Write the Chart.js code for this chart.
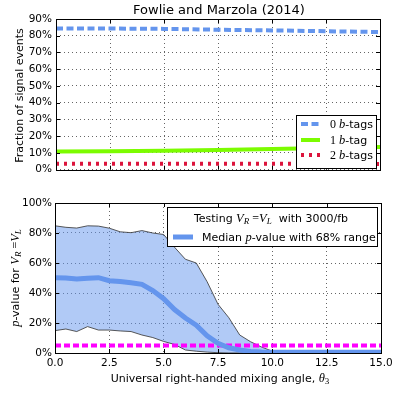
<!DOCTYPE html>
<html>
<head>
<meta charset="utf-8">
<script src="https://cdn.jsdelivr.net/npm/chart.js@4.4.1/dist/chart.umd.min.js"></script>
<style>
    html, body { margin: 0; padding: 0; background: #fff; }
    #wrap { position: relative; width: 399px; height: 393px; }
    #topChart { position: absolute; left: 0; top: 0; }
    #bottomChart { position: absolute; left: 0; top: 180px; }
</style>
</head>
<body>
<div id="wrap">
    <canvas id="topChart" width="399" height="180"></canvas>
    <canvas id="bottomChart" width="399" height="213"></canvas>
</div>
<script>
// Datos del panel superior (fracción de eventos de señal, %)
const thetaTop = [0, 2.5, 5, 7.5, 10, 12.5, 15];
const frac0b = [84.4, 84.3, 84.1, 83.6, 83.2, 82.7, 82.2];
const frac1b = [10.9, 11.0, 11.3, 11.8, 12.3, 12.9, 13.6];
const frac2b = [3.6, 3.6, 3.6, 3.5, 3.5, 3.5, 3.4];
const topTicks = [0, 10, 20, 30, 40, 50, 60, 70, 80, 90];

// Datos del panel inferior (p-value, %)
const thetaBot = [0, 0.5, 1, 1.5, 2, 2.5, 3, 3.5, 4, 4.5, 5, 5.5, 6, 6.5, 7, 7.5,
                  8, 8.5, 9, 9.5, 10, 10.5, 11, 11.5, 12, 12.5, 13, 13.5, 14, 14.5, 15];
const pUpper = [84.8, 83.8, 83.3, 84.8, 84.6, 83.2, 80.8, 80.2, 81.6, 80.0, 79.0, 70.5, 62.5, 60.0, 47.5, 32.5,
                23.5, 12.0, 7.5, 4.0, 1.2, 1.0, 1.0, 1.0, 1.0, 1.0, 1.0, 1.0, 1.0, 1.0, 1.0];
const pLower = [14.9, 16.0, 14.3, 17.6, 15.3, 15.3, 14.7, 14.3, 12.0, 10.3, 7.7, 5.7, 2.0, 1.2, 0.6, 0.2,
                0, 0, 0, 0, 0, 0, 0, 0, 0, 0, 0, 0, 0, 0, 0];
const pMedian = [50.2, 50.0, 49.3, 49.8, 50.2, 48.2, 47.6, 46.8, 45.8, 41.6, 36.2, 29.0, 23.3, 18.5, 11.5, 6.5,
                 3.5, 2.0, 1.0, 0.6, 0.5, 0.5, 0.5, 0.5, 0.5, 0.5, 0.5, 0.5, 0.5, 0.5, 0.5];
const threshold = 5;
const botTicks = [0, 20, 40, 60, 80, 100];
const xTicks = [0, 2.5, 5, 7.5, 10, 12.5, 15];

const COLORS = {
    blue: '#6495ED',
    green: '#7CFC00',
    red: '#DC143C',
    magenta: '#FF00FF',
    band: 'rgba(100, 149, 237, 0.5)',
    edge: 'rgba(60, 60, 60, 0.85)',
    grid: 'rgba(0, 0, 0, 0.6)'
};

const SANS = "11px 'DejaVu Sans'";
const M_R = "12px 'Liberation Serif'";
const M_I = "italic 12.5px 'Liberation Serif'";
const M_SUB = "italic 9px 'Liberation Serif'";

Chart.defaults.font.family = "'DejaVu Sans', sans-serif";
Chart.defaults.font.size = 10.5;
Chart.defaults.color = '#000';
Chart.defaults.animation = false;

function pts(xs, ys) {
    return xs.map((x, i) => ({ x: x, y: ys[i] }));
}

// Texto con varias fuentes (mathtext simplificado)
function drawRich(ctx, parts, x, y, align) {
    let w = 0;
    parts.forEach(p => { ctx.font = p[1]; w += ctx.measureText(p[0]).width; });
    let cx = align === 'center' ? x - w / 2 : x;
    ctx.textAlign = 'left';
    ctx.textBaseline = 'alphabetic';
    ctx.fillStyle = '#000';
    parts.forEach(p => {
        ctx.font = p[1];
        ctx.fillText(p[0], cx, y + (p[2] || 0));
        cx += ctx.measureText(p[0]).width;
    });
}

function drawRotated(ctx, parts, cx, cy) {
    ctx.save();
    ctx.translate(cx, cy);
    ctx.rotate(-Math.PI / 2);
    drawRich(ctx, parts, 0, 4, 'center');
    ctx.restore();
}

// Marco completo y marcas de ticks hacia dentro
function drawFrame(chart) {
    const ctx = chart.ctx;
    const a = chart.chartArea;
    const sx = chart.scales.x, sy = chart.scales.y;
    ctx.save();
    ctx.strokeStyle = '#000';
    ctx.lineWidth = 1;
    ctx.setLineDash([]);
    ctx.beginPath();
    sx.ticks.forEach(t => {
        const px = Math.round(sx.getPixelForValue(t.value)) + 0.5;
        ctx.moveTo(px, a.bottom); ctx.lineTo(px, a.bottom - 4);
        ctx.moveTo(px, a.top); ctx.lineTo(px, a.top + 4);
    });
    sy.ticks.forEach(t => {
        const py = Math.round(sy.getPixelForValue(t.value)) + 0.5;
        ctx.moveTo(a.left, py); ctx.lineTo(a.left + 4, py);
        ctx.moveTo(a.right, py); ctx.lineTo(a.right - 4, py);
    });
    ctx.stroke();
    ctx.strokeRect(Math.round(a.left) + 0.5, Math.round(a.top) + 0.5,
                   Math.round(a.right - a.left), Math.round(a.bottom - a.top));
    ctx.restore();
}

function legendBox(ctx, x0, y0, x1, y1) {
    ctx.save();
    ctx.fillStyle = '#fff';
    ctx.fillRect(x0, y0, x1 - x0, y1 - y0);
    ctx.strokeStyle = '#000';
    ctx.lineWidth = 1;
    ctx.strokeRect(x0 + 0.5, y0 + 0.5, x1 - x0 - 1, y1 - y0 - 1);
    ctx.restore();
}

function handle(ctx, x0, x1, y, color, width, dash) {
    ctx.save();
    ctx.strokeStyle = color;
    ctx.lineWidth = width;
    ctx.setLineDash(dash || []);
    ctx.beginPath();
    ctx.moveTo(x0, y); ctx.lineTo(x1, y);
    ctx.stroke();
    ctx.restore();
}

function scaleOpts(ticks, fmt) {
    return {
        type: 'linear',
        afterBuildTicks: s => { s.ticks = ticks.map(v => ({ value: v })); },
        grid: { color: COLORS.grid, lineWidth: 1, drawTicks: false },
        border: { display: false, dash: [1, 3] },
        ticks: { callback: fmt, autoSkip: false, maxRotation: 0, color: '#000' }
    };
}

// ---------- Panel superior ----------
const topX = scaleOpts(xTicks, v => v.toFixed(1));
topX.min = 0; topX.max = 15;
topX.ticks.display = false;
topX.afterFit = s => { s.height = 8; };
topX.z = 1;
const topY = scaleOpts(topTicks, v => v + '%');
topY.min = 0; topY.max = 90;
topY.ticks.padding = 4;
topY.afterFit = s => { s.width = 56; };
topY.z = 1;

new Chart(document.getElementById('topChart'), {
    type: 'line',
    data: {
        datasets: [
            { data: pts(thetaTop, frac0b), borderColor: COLORS.blue, borderWidth: 4, borderDash: [7, 3.5] },
            { data: pts(thetaTop, frac1b), borderColor: COLORS.green, borderWidth: 4 },
            { data: pts(thetaTop, frac2b), borderColor: COLORS.red, borderWidth: 4, borderDash: [3, 5] }
        ]
    },
    options: {
        responsive: false,
        devicePixelRatio: 1,
        layout: { padding: { left: 0, right: 19, top: 19, bottom: 0 } },
        elements: { point: { radius: 0 }, line: { tension: 0, borderCapStyle: 'butt' } },
        plugins: { legend: { display: false }, tooltip: { enabled: false } },
        scales: { x: topX, y: topY }
    },
    plugins: [{
        id: 'topDecor',
        afterDraw(chart) {
            const ctx = chart.ctx;
            drawFrame(chart);
            // Título
            ctx.save();
            ctx.font = "13px 'DejaVu Sans'";
            ctx.textAlign = 'center';
            ctx.textBaseline = 'middle';
            ctx.fillStyle = '#000';
            ctx.fillText('Fowlie and Marzola (2014)', 219, 11);
            ctx.restore();
            drawRotated(ctx, [['Fraction of signal events', SANS]], 19, 95.5);
            // Leyenda
            legendBox(ctx, 296, 115, 377, 169);
            handle(ctx, 301, 320, 124, COLORS.blue, 4, [7, 3.5]);
            handle(ctx, 301, 320, 140, COLORS.green, 4);
            handle(ctx, 301, 320, 155, COLORS.red, 4, [3, 5]);
            drawRich(ctx, [['0 ', M_R], ['b', M_I], ['-tags', SANS]], 330, 128);
            drawRich(ctx, [['1 ', M_R], ['b', M_I], ['-tag', SANS]], 330, 144);
            drawRich(ctx, [['2 ', M_R], ['b', M_I], ['-tags', SANS]], 330, 159);
        }
    }]
});

// ---------- Panel inferior ----------
const botX = scaleOpts(xTicks, v => v.toFixed(1));
botX.min = 0; botX.max = 15;
botX.ticks.padding = 4;
botX.afterFit = s => { s.height = 40; };
botX.z = 1;
const botY = scaleOpts(botTicks, v => v + '%');
botY.min = 0; botY.max = 100;
botY.ticks.padding = 3;
botY.afterFit = s => { s.width = 55; };
botY.z = 1;

new Chart(document.getElementById('bottomChart'), {
    type: 'line',
    data: {
        datasets: [
            { data: pts(thetaBot, pUpper), borderColor: COLORS.edge, borderWidth: 1,
              backgroundColor: COLORS.band, fill: '+1', order: 3 },
            { data: pts(thetaBot, pLower), borderColor: COLORS.edge, borderWidth: 1, fill: false, order: 2 },
            { data: pts(thetaBot, pMedian), borderColor: COLORS.blue, borderWidth: 5, fill: false, order: 0 },
            { data: [{ x: 0, y: threshold }, { x: 15, y: threshold }], borderColor: COLORS.magenta,
              borderWidth: 4, borderDash: [6, 3], fill: false, order: 1 }
        ]
    },
    options: {
        responsive: false,
        devicePixelRatio: 1,
        layout: { padding: { left: 0, right: 18, top: 23, bottom: 0 } },
        elements: { point: { radius: 0 }, line: { tension: 0, borderCapStyle: 'butt' } },
        plugins: { legend: { display: false }, tooltip: { enabled: false } },
        scales: { x: botX, y: botY }
    },
    plugins: [{
        id: 'bottomDecor',
        afterDraw(chart) {
            const ctx = chart.ctx;
            drawFrame(chart);
            drawRotated(ctx, [['p', M_I], ['-value for ', SANS], ['V', M_I], ['R', M_SUB, 2],
                              [' =', M_R], ['V', M_I], ['L', M_SUB, 2]], 15, 98);
            drawRich(ctx, [['Universal right-handed mixing angle, ', SANS], ['\u03b8', M_I], ['3', "9px 'Liberation Serif'", 2]],
                     220, 202, 'center');
            // Leyenda
            legendBox(ctx, 167, 27, 378, 67);
            drawRich(ctx, [['Testing ', SANS], ['V', M_I], ['R', M_SUB, 2], [' =', M_R], ['V', M_I], ['L', M_SUB, 2],
                           ['  with 3000/fb', SANS]], 271, 42, 'center');
            handle(ctx, 173, 193, 57, COLORS.blue, 5);
            drawRich(ctx, [['Median ', SANS], ['p', M_I], ['-value with 68% range', SANS]], 202, 61);
        }
    }]
});
</script>
</body>
</html>
